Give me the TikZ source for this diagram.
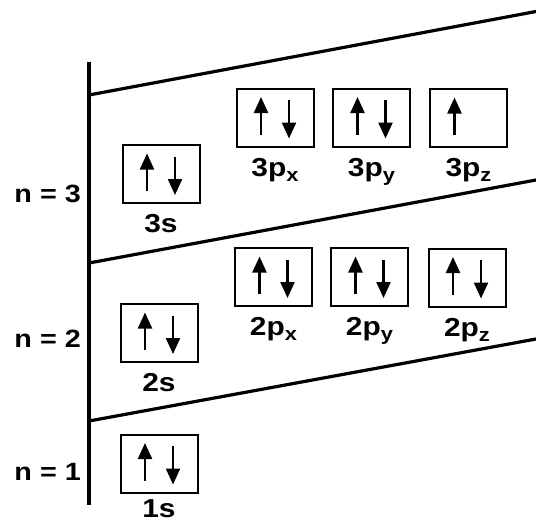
\documentclass[tikz,border=0pt]{standalone}
\usepackage{fontspec}
\setmainfont[FakeStretch=1.15]{Liberation Sans}
\usetikzlibrary{arrows.meta, positioning}
\tikzset{
	orbital/.style={draw, line width=2pt, minimum width=77pt, minimum height=58pt, inner sep=0pt},
	spin/.style={line width=2.3pt, -{Triangle[length=16pt,width=14pt]}},
	shell/.style={line width=3.2pt},
	orblabel/.style={font=\fontsize{26}{26}\selectfont\bfseries, anchor=base, inner sep=0pt},
	nlabel/.style={font=\fontsize{25}{25}\selectfont\bfseries, anchor=base east, inner sep=0pt}
}
\newcommand{\orbsub}[1]{\raisebox{-5pt}{\fontsize{19}{19}\selectfont #1}}
\newcommand{\spinup}[1]{\draw[spin] ([xshift=-14pt,yshift=-17pt]#1.center) -- ([xshift=-14pt,yshift=20.5pt]#1.center);}
\newcommand{\spindown}[1]{\draw[spin] ([xshift=14pt,yshift=17.5pt]#1.center) -- ([xshift=14pt,yshift=-21pt]#1.center);}

\begin{document}
\begin{tikzpicture}[x=1pt, y=-1pt]
	\useasboundingbox (0,0) rectangle (536,522);

	% shells
	\draw[shell] (89,62) -- (89,504.5);
	\draw[shell] (89,95) -- (536,11.5);
	\draw[shell] (89,263) -- (536,180);
	\draw[shell] (89,421) -- (536,339);

	\node[nlabel] (n3) at (81,202.7) {n = 3};
	\node[nlabel] (n2) at (81,347.3) {n = 2};
	\node[nlabel] (n1) at (81,480.7) {n = 1};

	% orbital boxes and their names
	\foreach \name/\x/\y/\txt in {2s/159/333/2s, 3s/161/174/3s,
			2px/273.5/277/2p\orbsub{x}, 2py/369.5/277/2p\orbsub{y}, 2pz/467/277.5/2p\orbsub{z},
			3px/275/117.5/3p\orbsub{x}, 3py/371.5/117.5/3p\orbsub{y}, 3pz/468.5/118/3p\orbsub{z}}
	{
		\node[orbital] (b\name) at (\x,\y) {};
		\node[orblabel] (l\name) at ([yshift=-28.5pt]b\name.south) {\txt};
	}
	\node[orbital] (b1s) at (159,463.5) {};
	\node[orblabel] (l1s) at ([yshift=-24pt]b1s.south) {1s};

	% electrons
	\foreach \name in {1s, 2s, 3s, 2px, 2py, 2pz, 3px, 3py}
	{
		\spinup{b\name}
		\spindown{b\name}
	}
	\spinup{b3pz}

\end{tikzpicture}
\end{document}
